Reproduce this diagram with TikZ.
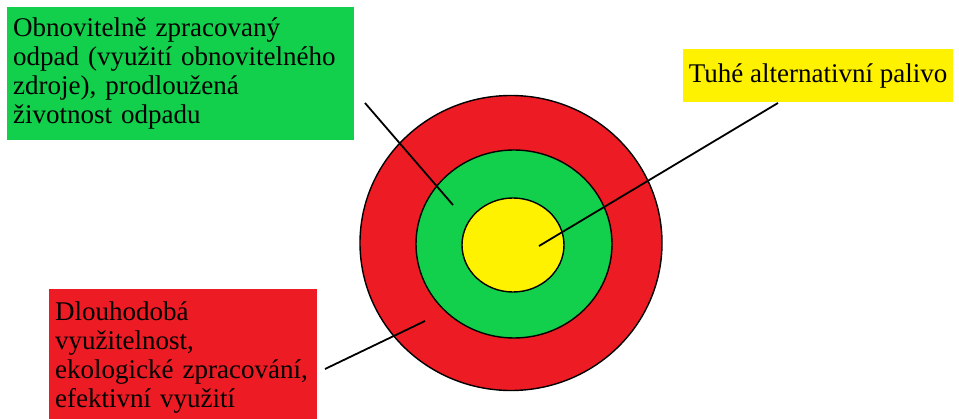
\documentclass[tikz,border=0pt]{standalone}
\usepackage{fontspec}
\setmainfont{Liberation Serif}
\usetikzlibrary{shapes.geometric}
\definecolor{tgRed}{HTML}{ED1C24}
\definecolor{tgGreen}{HTML}{12D04B}
\definecolor{tgYellow}{HTML}{FFF200}

\begin{document}
\begin{tikzpicture}[
     x=1pt, y=-1pt,
     ring/.style={ellipse, draw=black, line width=1.4pt, inner sep=0pt},
     lbl/.style={anchor=north west, align=left, inner xsep=6pt, inner ysep=0pt,
                 font=\fontsize{27}{29}\selectfont},
     lead/.style={line width=1.8pt, draw=black}]
     \useasboundingbox (0,0) rectangle (959,419);
     % text boxes
     \node[lbl, fill=tgGreen, text width=335pt, minimum height=133pt] (renew) at (7,7)
          {Obnovitelně zpracovaný\\odpad (využití obnovitelného\\zdroje), prodloužená\\životnost odpadu};
     \node[lbl, fill=tgRed, text width=256pt, minimum height=136pt] (longterm) at (49,289)
          {Dlouhodobá\\využitelnost,\\ekologické zpracování,\\efektivní využití};
     \node[lbl, anchor=center, align=center, fill=tgYellow, minimum width=270pt, minimum height=53pt] (fuel) at (818,75.5)
          {Tuhé alternativní palivo};
     % target
     \node[ring, fill=tgRed, minimum width=302pt, minimum height=295pt] (outer) at (511,243) {};
     \node[ring, fill=tgGreen, minimum width=196pt, minimum height=188pt] (middle) at (514,244) {};
     \node[ring, fill=tgYellow, minimum width=102pt, minimum height=94pt] (inner) at (513,245) {};
     % leaders
     \coordinate (renewEnd) at (365,103);  \coordinate (renewTip) at (453,205);
     \coordinate (fuelEnd) at (778,103);   \coordinate (fuelTip) at (539,246);
     \coordinate (longEnd) at (325,369);   \coordinate (longTip) at (425,321);
     \draw[lead] (renewEnd) -- (renewTip);
     \draw[lead] (fuelEnd) -- (fuelTip);
     \draw[lead] (longEnd) -- (longTip);
\end{tikzpicture}
\end{document}
